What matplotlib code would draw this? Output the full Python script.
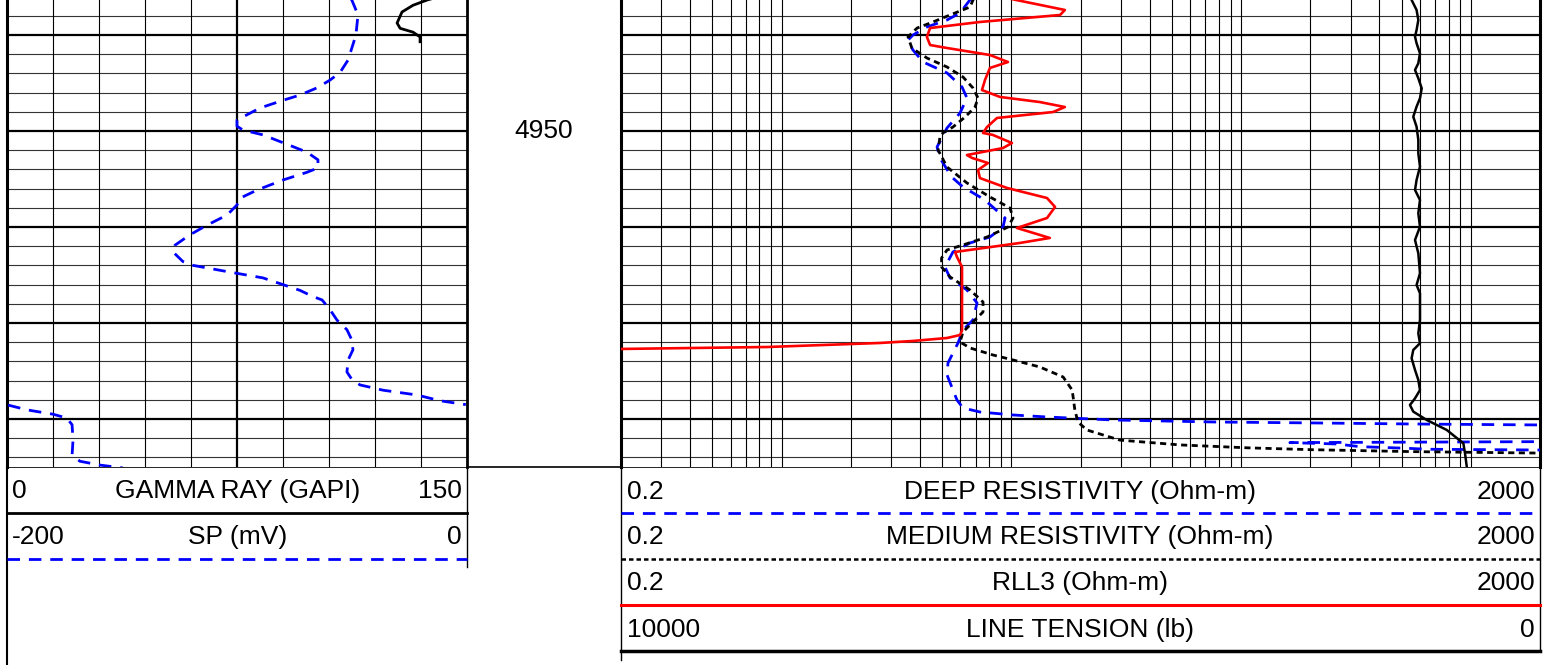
import numpy as np
import matplotlib
matplotlib.use('Agg')
import matplotlib.pyplot as plt

plt.rcParams['font.family'] = ['Liberation Sans', 'DejaVu Sans']

# depth window shown (ft)
top_depth = 4936.35
base_depth = 4985.0

# gamma ray (GAPI), black solid
gr_depth = [4936.0, 4936.35, 4936.9, 4937.6, 4938.75, 4939.3, 4939.7, 4940.2, 4940.7]
gr = [141, 137, 132.4, 128.8, 127.2, 128.2, 132.4, 134.7, 134.7]

# SP (mV), blue dashed, wraps past 0 mV
sp_depth = [4936.0, 4936.4, 4937.9, 4940.0, 4942.6, 4943.9, 4944.7, 4945.5, 4946.25, 4946.8,
            4947.6, 4948.3, 4948.85, 4949.5, 4949.9, 4950.4, 4951.5, 4952.2, 4953.0, 4953.85,
            4954.3, 4955.1, 4956.15, 4957.0, 4957.7, 4958.75, 4959.8, 4960.8, 4961.9, 4962.6,
            4963.6, 4964.0, 4964.7, 4965.3, 4966.0, 4966.6, 4967.2, 4967.6, 4968.6, 4969.7,
            4970.7, 4971.8, 4972.8, 4973.85, 4975.1, 4975.9, 4976.45, 4977.0, 4977.5, 4978.1,
            4978.5, 4978.55, 4979.05, 4979.5, 4979.9, 4980.6, 4982.2, 4983.75, 4984.4, 4984.8,
            4985.1]
sp = [-51, -50, -47.4, -48.3, -51.7, -55.2, -59.6, -65.2, -72.6, -80,
      -90, -95.6, -100, -100, -97.4, -88.7, -77, -69.6, -64.8, -64.8,
      -69.6, -80, -91.3, -98.7, -100, -104.3, -113, -120.4, -127, -127.8,
      -123.5, -119, -103, -88.7, -80, -72.6, -67.4, -63, -59.6, -56.5,
      -52.2, -50, -49.6, -51.7, -52.2, -50, -46.5, -36.5, -21.7, -11.7,
      -0.5, 0.5, 8.7, 20, 26, 28.3, 28.7, 28.3, 31.7, 40.4,
      50.4]

# deep resistivity (ohm-m), blue dashed
deep_depth = [4936.0, 4936.35, 4937.7, 4938.43, 4939.16, 4940.0, 4940.52, 4941.56, 4942.81, 4943.95,
              4945.41, 4946.56, 4948.12, 4949.68, 4950.1, 4951.66, 4952.81, 4954.79, 4955.83, 4956.87,
              4957.39, 4959.06, 4960.0, 4961.04, 4961.66, 4962.6, 4964.16, 4965.31, 4966.56, 4967.91,
              4969.68, 4970.73, 4972.08, 4974.16, 4975.41, 4976.98, 4978.02, 4978.85, 4979.27, 4979.58,
              4979.79, 4980.1, 4980.31, 4980.41, 4980.52, 4980.62, 4981.5, 4982.36, 4982.46, 4982.6,
              4982.88, 4983.05, 4983.15, 4983.23, 4984.5]
deep = [7.0, 6.6, 5.98, 5.25, 4.29, 3.73, 3.55, 3.73, 4.13, 5.25,
        6.1, 6.41, 5.98, 5.25, 5.14, 4.75, 4.89, 5.5, 6.16, 7.3,
        7.84, 9.39, 9.2, 8.07, 6.61, 5.57, 5.14, 5.41, 6.41, 7.09,
        6.81, 6.16, 5.86, 5.3, 5.25, 5.57, 5.8, 6.16, 7.3, 10.17,
        14.3, 27.7, 75.5, 206, 560, 2000, 3000, 2000, 163, 261,
        329, 527, 645, 2000, 3000]

# medium resistivity (ohm-m), black short dash
med_depth = [4936.0, 4936.35, 4937.08, 4937.91, 4938.64, 4939.27, 4940.2, 4941.35, 4942.39, 4943.33,
             4944.37, 4945.52, 4946.56, 4947.5, 4948.54, 4949.58, 4950.2, 4950.62, 4951.98, 4953.75,
             4955.41, 4956.87, 4958.02, 4959.06, 4960.0, 4961.04, 4961.87, 4962.39, 4963.23, 4964.16,
             4965.2, 4966.56, 4967.81, 4968.85, 4969.89, 4970.93, 4971.98, 4972.6, 4973.33, 4973.85,
             4974.58, 4975.62, 4976.98, 4979.06, 4980.31, 4981.14, 4981.98, 4982.2, 4982.7, 4983.0,
             4983.2, 4983.4, 4983.55, 4985.0]
med = [7.0, 6.81, 6.61, 5.41, 4.56, 3.89, 3.55, 3.69, 4.29, 5.25,
       6.16, 6.81, 7.16, 6.95, 6.29, 5.57, 5.04, 4.89, 4.8, 5.25,
       6.41, 8.07, 9.87, 10.17, 9.67, 7.84, 6.16, 5.25, 4.97, 4.97,
       5.41, 6.61, 7.53, 7.53, 6.81, 6.16, 5.98, 6.61, 8.32, 10.17,
       13.3, 16.8, 18.4, 18.9, 19.5, 21.3, 27.7, 29.7, 54.2, 106,
       206, 560, 2000, 3000]

# RLL3 (ohm-m), red solid
rll3_depth = [4936.0, 4936.35, 4937.39, 4937.91, 4938.64, 4939.27, 4940.2, 4941.04, 4941.35, 4942.08,
              4942.81, 4943.43, 4944.68, 4945.73, 4946.45, 4946.98, 4947.5, 4948.02, 4948.64, 4949.58,
              4950.2, 4950.41, 4951.25, 4951.77, 4952.5, 4952.8, 4953.33, 4954.06, 4954.9, 4955.93,
              4956.98, 4957.91, 4959.06, 4960.1, 4961.14, 4961.66, 4962.6, 4963.12, 4964.16, 4967.6,
              4970.77, 4971.25, 4971.56, 4971.87, 4972.08, 4972.5, 4972.7]
rll3 = [9.0, 10.5, 17.1, 16.3, 7.3, 4.43, 4.29, 4.43, 5.25, 8.07,
        9.67, 8.07, 7.68, 7.45, 8.93, 13.3, 17.1, 15.2, 8.66, 7.84,
        7.53, 8.32, 10.06, 9.2, 6.41, 6.74, 7.91, 7.16, 7.3, 9.57,
        14.3, 15.5, 14.3, 10.58, 14.7, 10.9, 5.69, 5.8, 6.1, 6.1,
        6.1, 5.98, 5.25, 3.73, 2.68, 0.864, 0.202]

# line tension (lb), black solid, reversed scale
tension_depth = [4936.0, 4936.35, 4937.39, 4938.43, 4939.48, 4940.17, 4940.86, 4941.9, 4942.94, 4943.64,
                 4944.51, 4945.55, 4946.59, 4947.46, 4948.51, 4949.55, 4950.93, 4952.32, 4953.71, 4955.1,
                 4956.14, 4957.18, 4958.57, 4959.97, 4961.35, 4962.74, 4964.82, 4966.04, 4966.9, 4969.68,
                 4971.07, 4972.11, 4972.81, 4973.67, 4974.89, 4975.93, 4976.98, 4977.85, 4978.54, 4979.23,
                 4980.1, 4981.14, 4982.53, 4983.57, 4984.96]
tension = [1400, 1397, 1343, 1324, 1343, 1360, 1343, 1306, 1324, 1360,
           1324, 1287, 1306, 1343, 1379, 1343, 1324, 1324, 1306, 1343,
           1360, 1306, 1324, 1306, 1360, 1324, 1306, 1343, 1306, 1306,
           1324, 1306, 1379, 1397, 1360, 1324, 1306, 1360, 1415, 1379,
           1233, 1015, 834, 816, 797]

depth_label = 4950

W, H = 1554, 665
fig = plt.figure(figsize=(W / 100, H / 100), dpi=100)


def px_axes(x0, y0, x1, y1, **kw):
    return fig.add_axes([x0 / W, 1 - y1 / H, (x1 - x0) / W, (y1 - y0) / H], **kw)


# header / frame drawn in pixel space
hd = px_axes(0, 0, W, H)
hd.set_xlim(0, W)
hd.set_ylim(H, 0)
hd.axis('off')

hd.plot([7, 1540], [467, 467], color='black', lw=1.2)
hd.plot([7, 7], [467, 665], color='black', lw=1.5)
hd.plot([467, 467], [467, 567], color='black', lw=1.0)
hd.plot([621, 621], [467, 660], color='black', lw=1.0)
hd.plot([1540, 1540], [467, 651], color='black', lw=1.0)
hd.plot([7, 467], [513, 513], color='black', lw=2.0)
hd.plot([7, 467], [559, 559], color='blue', lw=2.0, dashes=(4.5, 3.2))
hd.plot([621, 1540], [512.5, 512.5], color='blue', lw=2.0, dashes=(4.5, 3.2))
hd.plot([621, 1540], [559, 559], color='black', lw=1.8, dashes=(1.8, 1.2))
hd.plot([621, 1540], [605, 605], color='red', lw=2.2)
hd.plot([621, 1540], [651, 651], color='black', lw=2.5)

fs = 19
left_rows = [('0', 'GAMMA RAY (GAPI)', '150', 491), ('-200', 'SP (mV)', '0', 537)]
for lo, name, hi, yy in left_rows:
    hd.text(12, yy, lo, fontsize=fs, ha='left', va='center')
    hd.text(238, yy, name, fontsize=fs, ha='center', va='center')
    hd.text(462, yy, hi, fontsize=fs, ha='right', va='center')

right_rows = [('0.2', 'DEEP RESISTIVITY (Ohm-m)', '2000', 492),
              ('0.2', 'MEDIUM RESISTIVITY (Ohm-m)', '2000', 537),
              ('0.2', 'RLL3 (Ohm-m)', '2000', 583),
              ('10000', 'LINE TENSION (lb)', '0', 630)]
for lo, name, hi, yy in right_rows:
    hd.text(627, yy, lo, fontsize=fs, ha='left', va='center')
    hd.text(1080, yy, name, fontsize=fs, ha='center', va='center')
    hd.text(1535, yy, hi, fontsize=fs, ha='right', va='center')

# grid helper for depth lines
depth_lines = np.arange(4936, 4986, 2)


def depth_grid(ax):
    for d in depth_lines:
        if d % 10 == 0:
            ax.axhline(d, color='black', lw=1.6, zorder=1)
        else:
            ax.axhline(d, color='#333333', lw=0.8, zorder=1)


# ---- left track: GR + SP ----
axl = px_axes(7, 0, 467, 467)
axl.set_xlim(0, 150)
axl.set_ylim(base_depth, top_depth)
axl.set_xticks([])
axl.set_yticks([])
for s in ['top', 'bottom']:
    axl.spines[s].set_visible(False)
axl.spines['left'].set_linewidth(2.2)
axl.spines['right'].set_linewidth(2.0)
depth_grid(axl)
for v in np.arange(15, 150, 15):
    axl.axvline(v, color='black', lw=1.6 if v == 75 else 0.8, zorder=1)
axl.plot(gr, gr_depth, color='black', lw=2.0, zorder=3)

axs = axl.twiny()
axs.set_xlim(-200, 0)
axs.set_ylim(base_depth, top_depth)
axs.axis('off')
sp_arr = np.array(sp, dtype=float)
sp_show = np.where(sp_arr > 0, sp_arr - 200, sp_arr)
sp_d = np.array(sp_depth, dtype=float)
cut = np.where(np.abs(np.diff(sp_show)) > 100)[0] + 1
sp_show = np.insert(sp_show, cut, np.nan)
sp_d = np.insert(sp_d, cut, np.nan)
axs.plot(sp_show, sp_d, color='blue', lw=2.0, dashes=(4.5, 3.2))

# ---- depth track ----
axd = px_axes(467, 0, 621, 467)
axd.set_ylim(base_depth, top_depth)
axd.set_xlim(0, 1)
axd.axis('off')
axd.text(0.5, depth_label, str(depth_label), fontsize=fs, ha='center', va='center')

# ---- right track: resistivity + tension ----
axr = px_axes(621, 0, 1540, 467)
axr.set_xscale('log')
axr.set_xlim(0.2, 2000)
axr.set_ylim(base_depth, top_depth)
axr.set_xticks([])
axr.set_xticks([], minor=True)
axr.set_yticks([])
for s in ['top', 'bottom']:
    axr.spines[s].set_visible(False)
axr.spines['left'].set_linewidth(2.2)
axr.spines['right'].set_linewidth(2.2)
depth_grid(axr)
for k in range(-1, 4):
    for n in range(1, 10):
        v = n * 10.0 ** k
        if 0.2 < v < 2000:
            axr.axvline(v, color='black', lw=0.8, zorder=1)

axr.plot(deep, deep_depth, color='blue', lw=2.0, dashes=(4.5, 3.2), zorder=3)
axr.plot(med, med_depth, color='black', lw=2.0, dashes=(2.2, 1.6), zorder=3)
axr.plot(rll3, rll3_depth, color='red', lw=1.9, zorder=4)

axt = axr.twiny()
axt.set_xlim(10000, 0)
axt.set_ylim(base_depth, top_depth)
axt.axis('off')
axt.plot(tension, tension_depth, color='black', lw=1.8)

fig.savefig('out.png', dpi=100)
